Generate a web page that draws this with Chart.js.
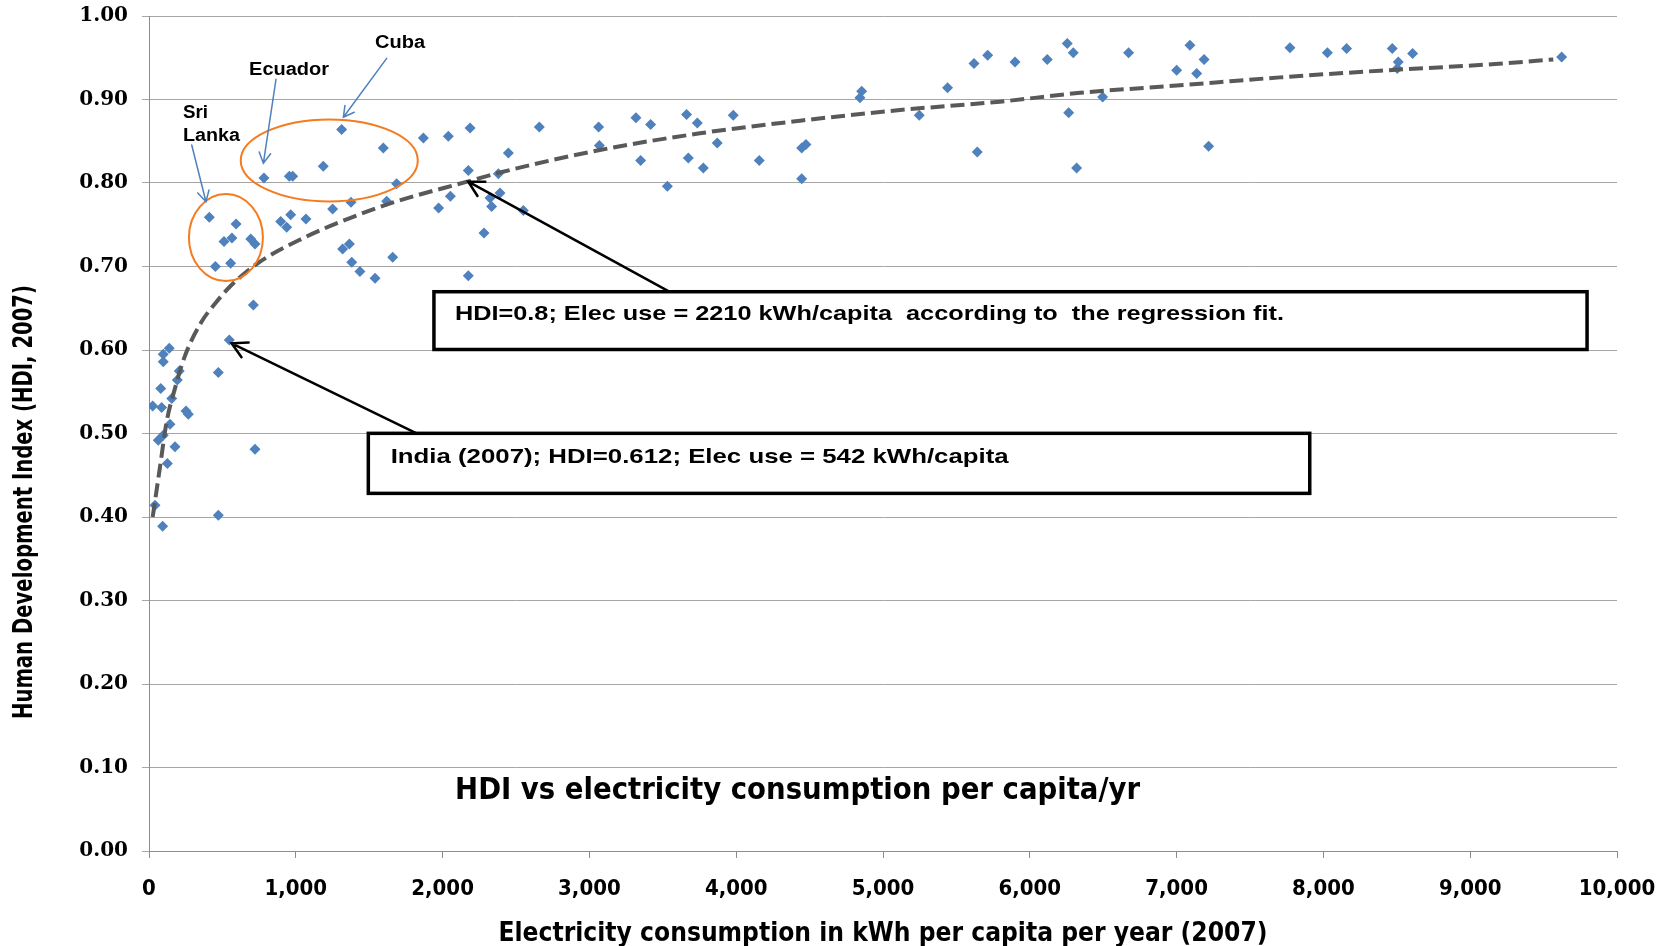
<!DOCTYPE html>
<html>
<head>
<meta charset="utf-8">
<script src="https://cdn.jsdelivr.net/npm/chart.js@4.4.1/dist/chart.umd.min.js"></script>
<style>
  html, body { margin: 0; padding: 0; background: #fff; }
</style>
</head>
<body>
<canvas id="chart" width="1671" height="946"></canvas>
<script>
// --- data ---
const elecKwh = [
  25, 86, 41, 93, 472, 80, 97, 97, 138, 155, 143, 97, 63, 177, 125, 206, 193, 252, 268, 472, 722, 547, 711,
  411, 593, 511, 565, 693, 722, 452, 556,
  783, 956, 979, 1187, 1312, 1596,
  1687, 897, 965, 938, 1069, 1251, 1376, 1619, 1319, 1365, 1381, 1437, 1540, 1660,
  1973, 2053, 2175, 2380, 2448, 2391, 2323, 2334, 2550, 2282, 2175, 1869, 2039, 2187, 2659,
  3063, 3068, 3317, 3417, 3349, 3662, 3735, 3674, 3776, 3871, 3980, 3531, 4157, 4446, 4475, 4446,
  5247, 5642, 4855, 4843, 5440, 5620, 5713,
  5899, 6119, 6255, 6296, 6265, 6319, 6496, 6673, 7091, 7000, 7137, 7187, 7218,
  7772, 8027, 8158, 8469, 8510, 8503, 8608, 9623
];
const hdi = [
  0.533, 0.531, 0.414, 0.389, 0.402, 0.554, 0.595, 0.586, 0.602, 0.542, 0.511, 0.498, 0.492, 0.484, 0.464, 0.575, 0.564, 0.527, 0.523, 0.573, 0.481, 0.612, 0.654,
  0.759, 0.751, 0.730, 0.734, 0.733, 0.727, 0.700, 0.704,
  0.806, 0.808, 0.808, 0.820, 0.864, 0.842,
  0.799, 0.754, 0.762, 0.747, 0.757, 0.769, 0.777, 0.778, 0.721, 0.727, 0.705, 0.694, 0.686, 0.711,
  0.770, 0.784, 0.815, 0.811, 0.836, 0.788, 0.782, 0.772, 0.767, 0.740, 0.689, 0.854, 0.856, 0.866, 0.867,
  0.867, 0.845, 0.878, 0.870, 0.827, 0.882, 0.872, 0.830, 0.818, 0.848, 0.881, 0.796, 0.827, 0.842, 0.846, 0.805,
  0.881, 0.837, 0.910, 0.902, 0.914, 0.943, 0.953,
  0.945, 0.948, 0.967, 0.956, 0.884, 0.818, 0.903, 0.956, 0.965, 0.935, 0.931, 0.948, 0.844,
  0.962, 0.956, 0.961, 0.961, 0.945, 0.937, 0.955, 0.951
];

// regression fit (logarithmic trend line as drawn in the picture)
const trendKwh = [25, 75, 120, 177, 245, 359, 452, 552, 733, 1051, 1369, 1687, 2175, 2391, 3072, 3753, 4435, 5116, 5797, 6342, 7023, 7704, 8385, 9169, 9566];
const trendHdi = [0.400, 0.460, 0.514, 0.554, 0.593, 0.634, 0.656, 0.676, 0.703, 0.734, 0.758, 0.778, 0.802, 0.8126, 0.8395, 0.8595, 0.8746, 0.8874, 0.8974, 0.908, 0.917, 0.9265, 0.9345, 0.9425, 0.948];

const xMax = 10000, xStep = 1000;
const yMax = 1, yStep = 0.1;

const chartTitle = 'HDI vs electricity consumption per capita/yr';
const xTitle = 'Electricity consumption in kWh per capita per year (2007)';
const yTitle = 'Human Development Index (HDI, 2007)';
const note1 = 'HDI=0.8; Elec use = 2210 kWh/capita  according to  the regression fit.';
const note2 = 'India (2007); HDI=0.612; Elec use = 542 kWh/capita';

const NARROW = "'Liberation Sans Narrow', 'DejaVu Sans Condensed', sans-serif";
const ARIAL = "'Liberation Sans', Arial, sans-serif";
const BLUE = '#4F81BD';
const ORANGE = '#F47B20';

// draw text squeezed/stretched to a given width
function fitText(ctx, text, x, y, font, width, align, rot) {
  ctx.save();
  ctx.font = font;
  const s = width / ctx.measureText(text).width;
  ctx.translate(x, y);
  if (rot) ctx.rotate(rot);
  ctx.scale(s, 1);
  ctx.textAlign = align || 'left';
  ctx.textBaseline = 'middle';
  ctx.fillStyle = '#000';
  ctx.fillText(text, 0, 0);
  ctx.restore();
}

function arrow(ctx, x1, y1, x2, y2, color, width, head) {
  const a = Math.atan2(y2 - y1, x2 - x1);
  ctx.save();
  ctx.strokeStyle = color;
  ctx.lineWidth = width;
  ctx.lineCap = 'round';
  ctx.beginPath();
  ctx.moveTo(x1, y1);
  ctx.lineTo(x2, y2);
  ctx.moveTo(x2 - head * Math.cos(a - 0.5), y2 - head * Math.sin(a - 0.5));
  ctx.lineTo(x2, y2);
  ctx.lineTo(x2 - head * Math.cos(a + 0.5), y2 - head * Math.sin(a + 0.5));
  ctx.stroke();
  ctx.restore();
}

const notes = {
  id: 'notes',
  afterDatasetsDraw(chart) {
    const { ctx, scales: { x, y } } = chart;
    const px = v => x.getPixelForValue(v);
    const py = v => y.getPixelForValue(v);

    // orange ellipses
    ctx.save();
    ctx.strokeStyle = ORANGE;
    ctx.lineWidth = 2;
    ctx.beginPath();
    ctx.ellipse(px(524), py(0.7346), px(524 + 252) - px(524), py(0.7346 - 0.0521) - py(0.7346), 0, 0, 2 * Math.PI);
    ctx.stroke();
    ctx.beginPath();
    ctx.ellipse(px(1228), py(0.827), px(1228 + 603) - px(1228), py(0.827 - 0.0491) - py(0.827), 0, 0, 2 * Math.PI);
    ctx.stroke();
    ctx.restore();

    // country labels + blue arrows
    const lbl = 'bold 18px ' + ARIAL;
    fitText(ctx, 'Sri', px(232), py(0.8838), lbl, 25, 'left');
    fitText(ctx, 'Lanka', px(232), py(0.8563), lbl, 57, 'left');
    fitText(ctx, 'Ecuador', px(954), py(0.9353), lbl, 80, 'center');
    fitText(ctx, 'Cuba', px(1710), py(0.9677), lbl, 50, 'center');
    arrow(ctx, px(291), py(0.8455), px(388), py(0.7776), BLUE, 1.5, 12);
    arrow(ctx, px(865), py(0.9242), px(779), py(0.8236), BLUE, 1.5, 12);
    arrow(ctx, px(1619), py(0.9493), px(1324), py(0.8787), BLUE, 1.5, 12);

    // note boxes
    ctx.save();
    ctx.lineWidth = 3.5;
    ctx.strokeStyle = '#000';
    ctx.fillStyle = '#fff';
    const box = (x1, x2, y1, y2) => {
      ctx.fillRect(px(x1), py(y1), px(x2) - px(x1), py(y2) - py(y1));
      ctx.strokeRect(px(x1), py(y1), px(x2) - px(x1), py(y2) - py(y1));
    };
    box(1941, 9796, 0.6698, 0.6006);
    box(1494, 7907, 0.5002, 0.4283);
    ctx.restore();
    const nf = 'bold 21px ' + ARIAL;
    fitText(ctx, note1, px(2084), py(0.6428), nf, 829, 'left');
    fitText(ctx, note2, px(1646), py(0.4715), nf, 618, 'left');
    arrow(ctx, px(3544), py(0.6698), px(2175), py(0.8016), '#000', 2.5, 17);
    arrow(ctx, px(1823), py(0.5002), px(563), py(0.608), '#000', 2.5, 17);

    // chart title inside the plot
    fitText(ctx, chartTitle, px(4418), py(0.072), 'bold 30px ' + NARROW, 685, 'center');

    // axis titles
    fitText(ctx, xTitle, (chart.chartArea.left + chart.chartArea.right) / 2, 934, 'bold 26px ' + NARROW, 769, 'center');
    fitText(ctx, yTitle, 25, 502, 'bold 26px ' + NARROW, 434, 'center', -Math.PI / 2);
  }
};

new Chart(document.getElementById('chart'), {
  type: 'scatter',
  data: {
    datasets: [
      {
        label: 'Trend',
        data: trendKwh.map((v, i) => ({ x: v, y: trendHdi[i] })),
        showLine: true,
        borderColor: '#595959',
        borderWidth: 4,
        borderDash: [14, 6],
        pointRadius: 0,
        cubicInterpolationMode: 'monotone',
        fill: false,
        order: 0
      },
      {
        label: 'HDI',
        data: elecKwh.map((v, i) => ({ x: v, y: hdi[i] })),
        pointStyle: 'rectRot',
        pointRadius: 5.5,
        backgroundColor: BLUE,
        borderColor: BLUE,
        borderWidth: 0,
        order: 1
      }
    ]
  },
  options: {
    responsive: false,
    devicePixelRatio: 1,
    animation: false,
    layout: { padding: { top: 16, right: 54, left: 0, bottom: 0 } },
    plugins: {
      legend: { display: false },
      tooltip: { enabled: false }
    },
    scales: {
      x: {
        type: 'linear',
        min: 0,
        max: xMax,
        ticks: {
          stepSize: xStep,
          autoSkip: false,
          maxRotation: 0,
          color: '#000',
          padding: 18,
          font: { family: NARROW, size: 22, weight: 'bold' },
          callback: v => v.toLocaleString('en-US')
        },
        grid: { drawOnChartArea: false, drawTicks: true, tickLength: 7, color: '#8c8c8c' },
        border: { color: '#8c8c8c' },
        afterFit: s => { s.height = 95; s.paddingLeft = 0; s.paddingRight = 0; }
      },
      y: {
        min: 0,
        max: yMax,
        ticks: {
          stepSize: yStep,
          color: '#000',
          padding: 14,
          font: { family: "'DejaVu Serif', serif", size: 20, weight: 'bold' },
          callback: v => v.toFixed(2)
        },
        grid: { color: '#a6a6a6', tickLength: 7 },
        border: { color: '#8c8c8c' },
        afterFit: s => { s.width = 149; s.paddingTop = 0; s.paddingBottom = 0; }
      }
    }
  },
  plugins: [notes]
});
</script>
</body>
</html>
